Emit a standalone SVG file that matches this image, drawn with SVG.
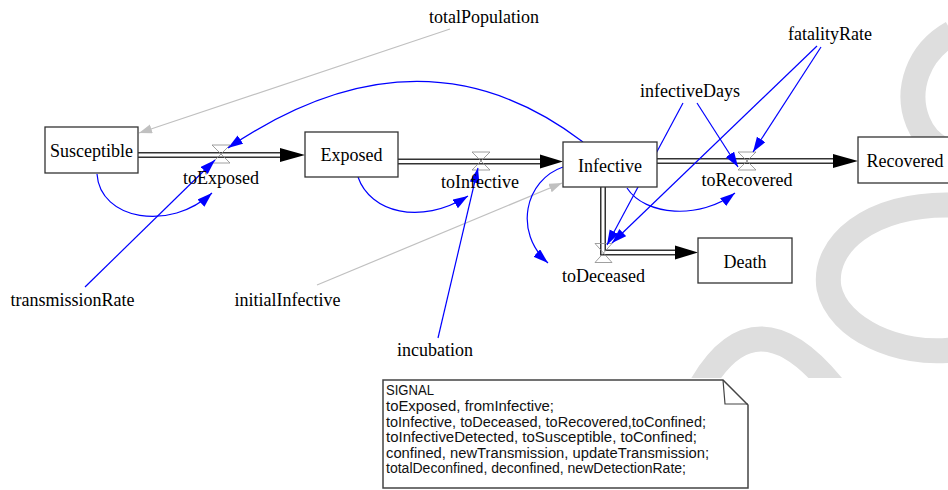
<svg xmlns="http://www.w3.org/2000/svg" width="948" height="490" viewBox="0 0 948 490">
<defs>
<style>
.lbl{font-family:"Liberation Serif","Times New Roman",serif;font-size:18px;fill:#000;text-anchor:middle}
.stock{fill:#fff;stroke:#333;stroke-width:1.3}
.pipeO{fill:none;stroke:#333;stroke-width:6;stroke-linejoin:miter}
.pipeI{fill:none;stroke:#fff;stroke-width:3;stroke-linejoin:miter}
.head{fill:#000}
.valve{fill:none;stroke:#888;stroke-width:0.8}
.blue{fill:none;stroke:#0000ff;stroke-width:1.2;marker-end:url(#ba)}
.gray{fill:none;stroke:#c0c0c0;stroke-width:1.2;marker-end:url(#ga)}
.wm{fill:none;stroke:#dedede;stroke-width:25}
.note{font-family:"Liberation Sans",Arial,sans-serif;font-size:14px;fill:#111}
</style>
<marker id="ba" markerUnits="userSpaceOnUse" markerWidth="16" markerHeight="11" refX="15" refY="5" orient="auto">
<path d="M0,0 L15,5 L0,10 z" fill="#0000ff"/>
</marker>
<marker id="ga" markerUnits="userSpaceOnUse" markerWidth="14" markerHeight="10" refX="13" refY="4.5" orient="auto">
<path d="M0,0 L13,4.5 L0,9 z" fill="#c0c0c0"/>
</marker>
<clipPath id="wmclip"><rect x="0" y="0" width="948" height="378"/></clipPath>
</defs>
<rect width="948" height="490" fill="#fff"/>
<g id="watermark" clip-path="url(#wmclip)">
<path class="wm" d="M952 33 C918 52 905 90 918 122 C926 142 942 150 952 153"/>
<path class="wm" d="M952 205 C870 203 822 245 829 288 C838 330 900 356 952 350"/>
<path class="wm" d="M700 388 Q755 290 834 388"/>
</g>
<g id="flows">
<path class="pipeO" d="M138 155 H282"/><path class="pipeI" d="M138 155 H282"/>
<polygon class="head" points="280,148 305,155 280,162"/>
<path class="pipeO" d="M398 161.5 H542"/><path class="pipeI" d="M398 161.5 H542"/>
<polygon class="head" points="540,154.5 563,161.5 540,168.5"/>
<path class="pipeO" d="M657 161 H835"/><path class="pipeI" d="M657 161 H835"/>
<polygon class="head" points="833,154 858,161 833,168"/>
<path class="pipeO" d="M603 187 V252.5 H677"/><path class="pipeI" d="M603 187 V252.5 H677"/>
<polygon class="head" points="675,245.5 698,252.5 675,259.5"/>
</g>
<g id="valves">
<path class="valve" d="M212 145 H230 L212 163 H230 Z"/>
<path class="valve" d="M472 152 H490 L472 170 H490 Z"/>
<path class="valve" d="M738 152 H756 L738 170 H756 Z"/>
<path class="valve" d="M595 243.5 H612 L595 262.5 H612 Z"/>
</g>
<g id="connectors">
<path class="gray" d="M450 29 L139 133"/>
<path class="gray" d="M317 285 L562 183"/>
<path class="blue" d="M583 142 Q420 18 228 148"/>
<path class="blue" d="M97 174 C100 220 170 232 212 193"/>
<path class="blue" d="M85 287 L215 160"/>
<path class="blue" d="M358 177 C370 212 420 226 468 196"/>
<path class="blue" d="M438 338 L478 168"/>
<path class="blue" d="M563 167 C525 180 513 232 548 263"/>
<path class="blue" d="M627 188 C645 216 700 220 735 193"/>
<path class="blue" d="M683 103 L607 245"/>
<path class="blue" d="M697 103 L738 167"/>
<path class="blue" d="M821 47 L753 152"/>
<path class="blue" d="M817 46 L612 243"/>
</g>
<g id="Susceptible"><rect class="stock" x="45" y="127" width="93" height="46"/><text class="lbl" x="91.5" y="157">Susceptible</text></g>
<g id="Exposed"><rect class="stock" x="305" y="132" width="93" height="45"/><text class="lbl" x="351.5" y="161">Exposed</text></g>
<g id="Infective"><rect class="stock" x="563" y="142" width="94" height="45"/><text class="lbl" x="610" y="172">Infective</text></g>
<g id="Recovered"><rect class="stock" x="858" y="137" width="96" height="46"/><text class="lbl" x="905" y="167">Recovered</text></g>
<g id="Death"><rect class="stock" x="698" y="238" width="94" height="45"/><text class="lbl" x="745" y="268">Death</text></g>
<g id="toExposed"><text class="lbl" x="221" y="184">toExposed</text></g>
<g id="toInfective"><text class="lbl" x="480" y="188">toInfective</text></g>
<g id="toRecovered"><text class="lbl" x="747" y="186">toRecovered</text></g>
<g id="toDeceased"><text class="lbl" x="603.5" y="282">toDeceased</text></g>
<g id="totalPopulation"><text class="lbl" x="484" y="23">totalPopulation</text></g>
<g id="transmissionRate"><text class="lbl" x="72.5" y="306">transmissionRate</text></g>
<g id="initialInfective"><text class="lbl" x="287.5" y="306">initialInfective</text></g>
<g id="incubation"><text class="lbl" x="435" y="356">incubation</text></g>
<g id="infectiveDays"><text class="lbl" x="690" y="97">infectiveDays</text></g>
<g id="fatalityRate"><text class="lbl" x="830" y="40">fatalityRate</text></g>
<g id="note">
<path d="M383 380 H723 L748 405 V488 H383 Z" fill="#fff" stroke="#444" stroke-width="1.5"/>
<path d="M723 380 L725 404 H748" fill="none" stroke="#444" stroke-width="1.2"/>
<text class="note" x="386" y="395" textLength="48" lengthAdjust="spacingAndGlyphs">SIGNAL</text>
<text class="note" x="386" y="411" textLength="168" lengthAdjust="spacingAndGlyphs">toExposed, fromInfective;</text>
<text class="note" x="386" y="426.5" textLength="320" lengthAdjust="spacingAndGlyphs">toInfective, toDeceased, toRecovered,toConfined;</text>
<text class="note" x="386" y="442" textLength="311" lengthAdjust="spacingAndGlyphs">toInfectiveDetected, toSusceptible, toConfined;</text>
<text class="note" x="386" y="457.5" textLength="323" lengthAdjust="spacingAndGlyphs">confined, newTransmission, updateTransmission;</text>
<text class="note" x="386" y="473" textLength="300" lengthAdjust="spacingAndGlyphs">totalDeconfined, deconfined, newDetectionRate;</text>
</g>
</svg>
